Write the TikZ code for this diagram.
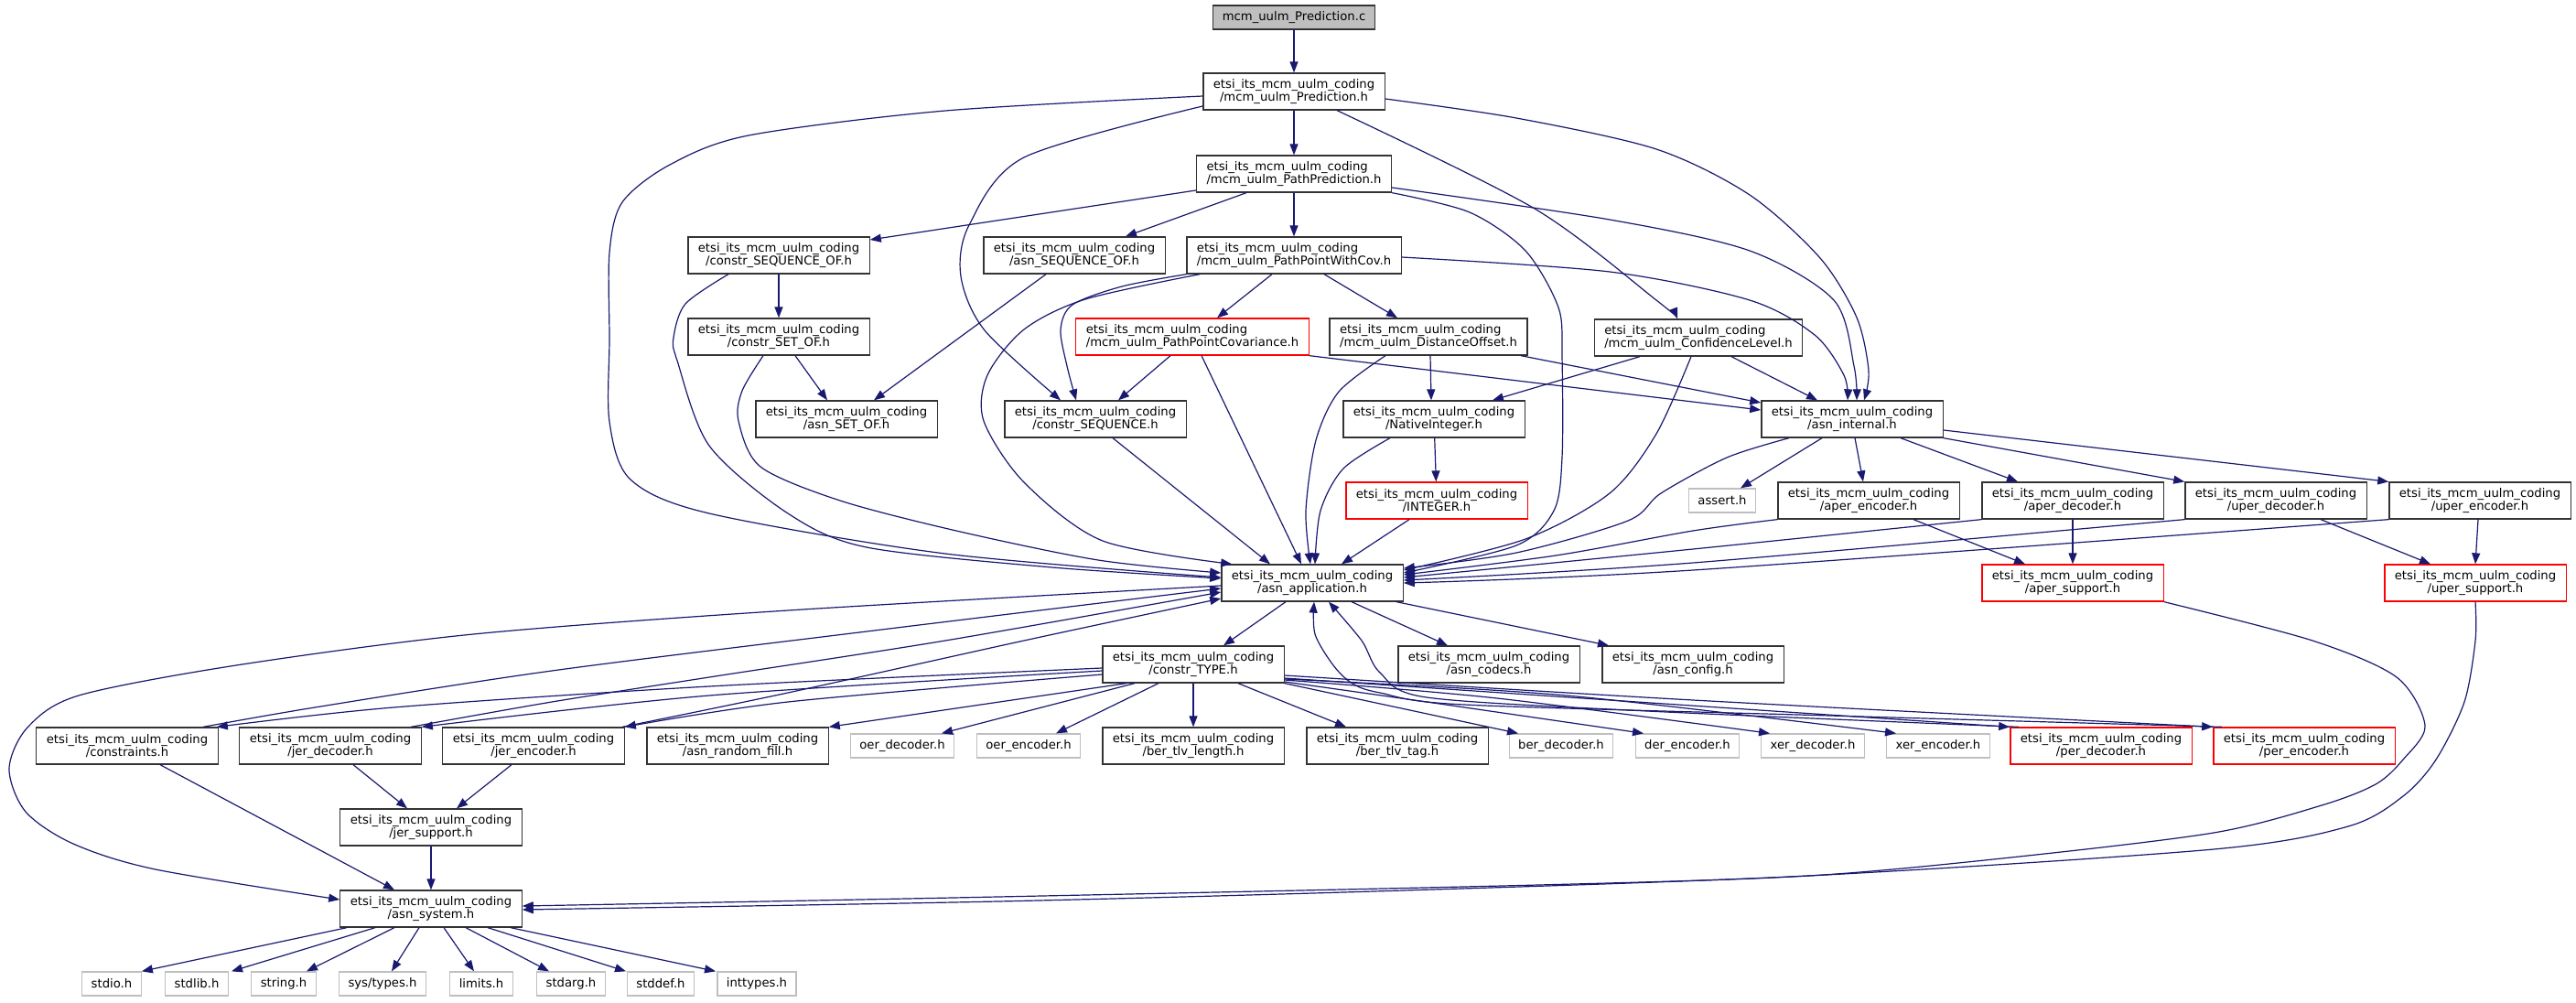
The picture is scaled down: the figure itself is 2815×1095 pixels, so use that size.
\documentclass[tikz,border=0pt]{standalone}
\usepackage{fontspec}
\setmainfont{DejaVu Sans}
\usetikzlibrary{arrows.meta}
\definecolor{edgec}{HTML}{191970}
\definecolor{gbc}{HTML}{BFBFBF}
\definecolor{bordc}{HTML}{333333}
\newcommand\nfnt{\fontsize{13.2}{14.5}\selectfont}
\newcommand\pfx{etsi\_its\_mcm\_uulm\_coding}
\begin{document}
\begin{tikzpicture}[x=1pt,y=-1pt,
 box/.style={draw=bordc,line width=1.3pt,fill=white,inner xsep=11pt,inner ysep=2pt,minimum height=40pt,align=center,font=\nfnt},
 boxl/.style={box,align=left},
 rbox/.style={box,draw=red},
 rboxl/.style={boxl,draw=red},
 gbox/.style={draw=gbc,line width=1.3pt,fill=white,inner xsep=10pt,inner ysep=2pt,minimum height=26pt,font=\nfnt},
 rootbox/.style={gbox,draw=bordc,fill=gbc},
 e/.style={draw=edgec,line width=1.2pt,-{Triangle[length=12pt,width=9pt]}}]
\fill[white] (0,0) rectangle (2815,1095);
\useasboundingbox (0,0) rectangle (2815,1095);
% nodes
\node[rootbox] (pc) at (1414,19) {mcm\_uulm\_Prediction.c};
\node[box] (ph) at (1414,100) {\pfx\\/mcm\_uulm\_Prediction.h};
\node[boxl] (ppred) at (1414,190) {\pfx\\/mcm\_uulm\_PathPrediction.h};
\node[box] (cso) at (851,279) {\pfx\\/constr\_SEQUENCE\_OF.h};
\node[box] (aso) at (1174,279) {\pfx\\/asn\_SEQUENCE\_OF.h};
\node[boxl] (ppwc) at (1414,279) {\pfx\\/mcm\_uulm\_PathPointWithCov.h};
\node[box] (cset) at (851,368) {\pfx\\/constr\_SET\_OF.h};
\node[rboxl] (ppcov) at (1303,368) {\pfx\\/mcm\_uulm\_PathPointCovariance.h};
\node[boxl] (dist) at (1561,368) {\pfx\\/mcm\_uulm\_DistanceOffset.h};
\node[boxl] (conf) at (1856,369) {\pfx\\/mcm\_uulm\_ConfidenceLevel.h};
\node[box] (asetof) at (925,458) {\pfx\\/asn\_SET\_OF.h};
\node[box] (cseq) at (1197,458) {\pfx\\/constr\_SEQUENCE.h};
\node[box] (nat) at (1567,458) {\pfx\\/NativeInteger.h};
\node[box] (aint) at (2024,458) {\pfx\\/asn\_internal.h};
\node[rbox] (integ) at (1570,547) {\pfx\\/INTEGER.h};
\node[gbox] (assert) at (1882,547) {assert.h};
\node[box] (aenc) at (2042,547) {\pfx\\/aper\_encoder.h};
\node[box] (adec) at (2265,547) {\pfx\\/aper\_decoder.h};
\node[box] (udec) at (2487,547) {\pfx\\/uper\_decoder.h};
\node[box] (uenc) at (2710,547) {\pfx\\/uper\_encoder.h};
\node[box] (app) at (1434,637) {\pfx\\/asn\_application.h};
\node[rbox] (asup) at (2265,637) {\pfx\\/aper\_support.h};
\node[rbox] (usup) at (2705,637) {\pfx\\/uper\_support.h};
\node[box] (ctype) at (1304,726) {\pfx\\/constr\_TYPE.h};
\node[box] (codecs) at (1627,726) {\pfx\\/asn\_codecs.h};
\node[box] (config) at (1850,726) {\pfx\\/asn\_config.h};
\node[box] (constr) at (139,815) {\pfx\\/constraints.h};
\node[box] (jdec) at (361,815) {\pfx\\/jer\_decoder.h};
\node[box] (jenc) at (583,815) {\pfx\\/jer\_encoder.h};
\node[box] (rfill) at (806,815) {\pfx\\/asn\_random\_fill.h};
\node[gbox] (oerd) at (986,815) {oer\_decoder.h};
\node[gbox] (oere) at (1124,815) {oer\_encoder.h};
\node[box] (btl) at (1304,815) {\pfx\\/ber\_tlv\_length.h};
\node[box] (btt) at (1527,815) {\pfx\\/ber\_tlv\_tag.h};
\node[gbox] (berd) at (1706,815) {ber\_decoder.h};
\node[gbox] (dere) at (1844,815) {der\_encoder.h};
\node[gbox] (xerd) at (1981,815) {xer\_decoder.h};
\node[gbox] (xere) at (2118,815) {xer\_encoder.h};
\node[rbox] (perd) at (2296,815) {\pfx\\/per\_decoder.h};
\node[rbox] (pere) at (2518,815) {\pfx\\/per\_encoder.h};
\node[box] (jsup) at (471,904) {\pfx\\/jer\_support.h};
\node[box] (sys) at (471,993) {\pfx\\/asn\_system.h};
\node[gbox] (stdio) at (122,1075) {stdio.h};
\node[gbox] (stdlib) at (215,1075) {stdlib.h};
\node[gbox] (stringh) at (310,1075) {string.h};
\node[gbox] (systypes) at (418,1075) {sys/types.h};
\node[gbox] (limitsh) at (526,1075) {limits.h};
\node[gbox] (stdarg) at (624,1075) {stdarg.h};
\node[gbox] (stddef) at (722,1075) {stddef.h};
\node[gbox] (inttypes) at (827,1075) {inttypes.h};
% edges
\draw[e] (pc) -- (ph);
\draw[e] plot[smooth] coordinates {([yshift=-5pt]ph.west) (1033,121) (818,148) (732,180) (680,221) (666,276) (666,370) (666,461) (689,524) (775,561) (1033,605) ([yshift=6pt]app.west)};
\draw[e] plot[smooth] coordinates {([yshift=-16pt]ph.west) (1119,172) (1059,246) (1050,302) (1076,361) ([xshift=-38pt]cseq.north)};
\draw[e] (ph) -- (ppred);
\draw[e] plot[smooth] coordinates {([xshift=47pt]ph.south) (1677,228) (1810,328) ([xshift=-23pt]conf.north)};
\draw[e] plot[smooth] coordinates {([yshift=-8pt]ph.east) (1657,129) (1810,163) (1912,213) (1989,282) (2029,347) (2042,405) ([xshift=13pt]aint.north)};
\draw[e] plot[smooth] coordinates {([yshift=-15pt]ppred.east) (1759,240) (1912,274) (2004,328) (2026,400) ([xshift=5pt]aint.north)};
\draw[e] plot[smooth] coordinates {(ppred.south east) (1606,232) (1667,274) (1703,336) (1707,390) (1707,500) (1698,558) (1657,596) ([yshift=11pt]app.east)};
\draw[e] ([yshift=-18pt]ppred.west) -- ([yshift=17pt]cso.east);
\draw[e] ([xshift=-52pt]ppred.south) -- ([xshift=56pt]aso.north);
\draw[e] (ppred) -- (ppwc);
\draw[e] plot[smooth] coordinates {([yshift=-2pt]ppwc.east) (1759,297) (1912,328) (1983,366) (2015,410) ([xshift=-5pt]aint.north)};
\draw[e] (cso) -- (cset);
\draw[e] plot[smooth] coordinates {([xshift=-55pt]cso.south) (749,332) (736,369) (740,394) (775,487) (861,561) (947,598) (1150,620) ([yshift=5pt]app.west)};
\draw[e] ([xshift=18pt]cset.south) -- ([xshift=-21pt]asetof.north);
\draw[e] plot[smooth] coordinates {([xshift=-17pt]cset.south) (811,427) (807,460) (831,510) (918,547) (1045,580) (1200,612) ([yshift=11pt]app.west)};
\draw[e] ([xshift=-31pt]aso.south) -- ([xshift=30pt]asetof.north);
\draw[e] ([xshift=-24pt]ppwc.south) -- ([xshift=27pt]ppcov.north);
\draw[e] ([xshift=33pt]ppwc.south) -- ([xshift=-34pt]dist.north);
\draw[e] plot[smooth] coordinates {(ppwc.south west) (1226,313) (1172,333) (1159,360) (1166,400) ([xshift=-21pt]cseq.north)};
\draw[e] plot[smooth] coordinates {([xshift=15pt]ppwc.south west) (1186,327) (1119,360) (1079,410) (1075,460) (1119,527) (1205,591) ([xshift=12pt]app.north west)};
\draw[e] ([xshift=-24pt]ppcov.south) -- ([xshift=25pt]cseq.north);
\draw[e] ([xshift=10pt]ppcov.south) -- ([xshift=-12pt]app.north);
\draw[e] (ppcov.south east) -- ([yshift=10pt]aint.west);
\draw[e] ([xshift=2pt]dist.south) -- ([xshift=-3pt]nat.north);
\draw[e] ([xshift=101pt]dist.south) -- ([yshift=18pt]aint.west);
\draw[e] plot[smooth] coordinates {([xshift=-47pt]dist.south) (1463,428) (1438,481) (1427,558) ([xshift=-2pt]app.north)};
\draw[e] ([xshift=-64pt]conf.south) -- ([xshift=64pt]nat.north);
\draw[e] ([xshift=36pt]conf.south) -- ([xshift=-38pt]aint.north);
\draw[e] plot[smooth] coordinates {([xshift=-8pt]conf.south) (1810,474) (1759,539) (1667,589) ([yshift=14pt]app.east)};
\draw[e] (nat) -- (integ);
\draw[e] plot[smooth] coordinates {([xshift=-48pt]nat.south) (1468,512) (1443,558) ([xshift=3pt]app.north)};
\draw[e] ([xshift=-30pt]integ.south) -- ([xshift=32pt]app.north);
\draw[e] ([xshift=19pt]cseq.south) -- ([xshift=-46pt]app.north);
\draw[e] ([xshift=-33pt]aint.south) -- ([xshift=20pt]assert.north);
\draw[e] ([xshift=3pt]aint.south) -- ([xshift=-6pt]aenc.north);
\draw[e] ([xshift=53pt]aint.south) -- ([xshift=-60pt]adec.north);
\draw[e] (aint.south east) -- (udec.north west);
\draw[e] ([yshift=-12pt]aint.east) -- (uenc.north west);
\draw[e] plot[smooth] coordinates {([xshift=-69pt]aint.south) (1887,500) (1815,539) (1779,569) (1657,604) ([yshift=16pt]app.east)};
\draw[e] ([xshift=49pt]aenc.south) -- ([xshift=-52pt]asup.north);
\draw[e] (adec) -- (asup);
\draw[e] ([xshift=49pt]udec.south) -- ([xshift=-49pt]usup.north);
\draw[e] ([xshift=-2pt]uenc.south) -- (usup.north);
\draw[e] plot[smooth] coordinates {(aenc.south west) (1850,580) (1700,607) ([yshift=9pt]app.east)};
\draw[e] plot[smooth] coordinates {(adec.south west) (1850,600) ([yshift=6pt]app.east)};
\draw[e] plot[smooth] coordinates {(udec.south west) (1850,615) ([yshift=3pt]app.east)};
\draw[e] plot[smooth] coordinates {(uenc.south west) (1850,623) (app.east)};
\draw[e] plot[smooth] coordinates {(asup.south east) (2527,700) (2619,740) (2650,793) (2626,830) (2596,857) (2537,880) (2419,910) (2197,937) (1976,957) (1681,967) (1090,980) ([yshift=3pt]sys.east)};
\draw[e] plot[smooth] coordinates {(usup.south) (2705,700) (2693,767) (2662,830) (2626,870) (2566,903) (2419,928) (1976,957) (1533,973) (1090,985) ([yshift=-1pt]sys.east)};
\draw[e] ([xshift=-29pt]app.south) -- ([xshift=33pt]ctype.north);
\draw[e] ([xshift=43pt]app.south) -- ([xshift=-45pt]codecs.north);
\draw[e] ([xshift=92pt]app.south) -- ([xshift=-92pt]config.north);
\draw[e] plot[smooth] coordinates {([yshift=-3pt]app.west) (861,667) (517,693) (258,727) (86,760) (30,795) (10,840) (28,887) (80,922) (170,950) ([yshift=10pt]sys.west)};
\draw[e] plot[smooth] coordinates {([yshift=-4pt]ctype.west) (775,750) (430,773) ([xshift=-2pt]constr.north east)};
\draw[e] plot[smooth] coordinates {([yshift=-7pt]ctype.west) (775,760) (jdec.north east)};
\draw[e] plot[smooth] coordinates {([yshift=-11pt]ctype.west) (861,767) (jenc.north east)};
\draw[e] ([xshift=-73pt]ctype.south) -- (rfill.north east);
\draw[e] ([xshift=-64pt]ctype.south) -- ([xshift=43pt]oerd.north);
\draw[e] ([xshift=-38pt]ctype.south) -- ([xshift=30pt]oere.north);
\draw[e] (ctype) -- (btl);
\draw[e] ([xshift=49pt]ctype.south) -- ([xshift=-56pt]btt.north);
\draw[e] (ctype.south east) -- ([xshift=-47pt]berd.north);
\draw[e] plot[smooth] coordinates {([yshift=-19pt]ctype.east) (1559,767) ([xshift=-48pt]dere.north)};
\draw[e] plot[smooth] coordinates {([yshift=-17pt]ctype.east) (1636,763) ([xshift=-47pt]xerd.north)};
\draw[e] plot[smooth] coordinates {([yshift=-16pt]ctype.east) (1712,760) ([xshift=-46pt]xere.north)};
\draw[e] plot[smooth] coordinates {([yshift=-15pt]ctype.east) (1789,767) (perd.north west)};
\draw[e] plot[smooth] coordinates {([yshift=-12pt]ctype.east) (1850,765) (pere.north west)};
\draw[e] plot[smooth] coordinates {([xshift=10pt]perd.north west) (1800,777) (1559,762) (1508,735) (1488,700) ([xshift=18pt]app.south)};
\draw[e] plot[smooth] coordinates {([xshift=10pt]pere.north west) (2000,782) (1600,770) (1508,757) (1478,747) (1457,727) (1437,693) ([xshift=2pt]app.south)};
\draw[e] plot[smooth] coordinates {([xshift=83pt]constr.north) (344,773) (603,733) (947,690) ([yshift=-6pt]app.west)};
\draw[e] plot[smooth] coordinates {([xshift=88pt]jdec.north) (603,767) (775,740) (1033,700) ([yshift=-10pt]app.west)};
\draw[e] plot[smooth] coordinates {([xshift=97pt]jenc.north) (861,757) (1119,700) ([yshift=-17pt]app.west)};
\draw[e] ([xshift=36pt]constr.south) -- ([xshift=-40pt]sys.north);
\draw[e] ([xshift=25pt]jdec.south) -- ([xshift=-26pt]jsup.north);
\draw[e] ([xshift=-24pt]jenc.south) -- ([xshift=28pt]jsup.north);
\draw[e] (jsup) -- (sys);
\draw[e] ([xshift=-92pt]sys.south) -- (stdio.north east);
\draw[e] ([xshift=-61pt]sys.south) -- ([xshift=38pt]stdlib.north);
\draw[e] ([xshift=-40pt]sys.south) -- ([xshift=25pt]stringh.north);
\draw[e] ([xshift=-13pt]sys.south) -- ([xshift=10pt]systypes.north);
\draw[e] ([xshift=14pt]sys.south) -- ([xshift=-8pt]limitsh.north);
\draw[e] ([xshift=38pt]sys.south) -- ([xshift=-24pt]stdarg.north);
\draw[e] ([xshift=62pt]sys.south) -- ([xshift=-38pt]stddef.north);
\draw[e] ([xshift=87pt]sys.south) -- ([xshift=-45pt]inttypes.north);
\end{tikzpicture}
\end{document}
